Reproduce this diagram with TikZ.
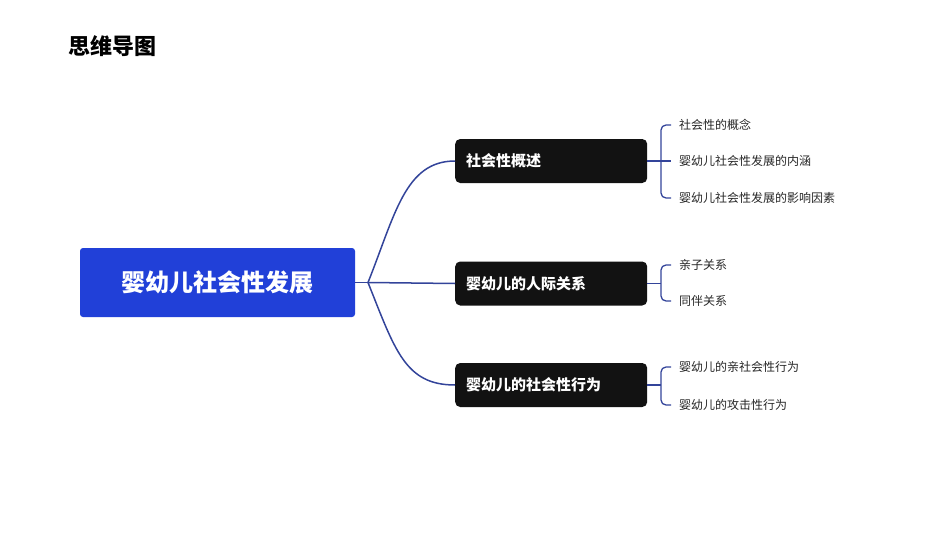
\documentclass[tikz,border=0pt]{standalone}
\usepackage{fontspec}
\setmainfont{Noto Sans CJK SC}
\begin{document}
\begin{tikzpicture}[x=1pt,y=-1pt,
  root/.style={fill=rootblue,rounded corners=3pt,minimum width=275pt,minimum height=69pt,text=white,font=\bfseries\fontsize{24}{28}\selectfont},
  br/.style={fill=black!93,rounded corners=5pt,minimum width=192pt,minimum height=44pt,text=white,font=\bfseries\fontsize{15}{18}\selectfont,anchor=west,text width=170pt,align=left},
  leaf/.style={anchor=west,font=\fontsize{12}{14}\selectfont,text=black!85,inner sep=0pt},
  conn/.style={draw=linkblue,line width=1.5pt},
  lc/.style={draw=linkblue,line width=1.3pt,rounded corners=5pt}]
\definecolor{rootblue}{HTML}{2140D8}
\definecolor{linkblue}{HTML}{33449A}
\useasboundingbox (0,0) rectangle (950,535);
\node[anchor=west,font=\bfseries\fontsize{22}{26}\selectfont,inner sep=0pt] (title) at (68,46) {思维导图};
\node[root] (r) at (217.5,282.5) {婴幼儿社会性发展};
\node[br] (b1) at (455,161) {社会性概述};
\node[br] (b2) at (455,283.5) {婴幼儿的人际关系};
\node[br] (b3) at (455,385) {婴幼儿的社会性行为};
\coordinate (j) at (368,282.5);
\draw[conn] (r.east) -- (j);
\draw[conn] (j) .. controls (395,215) and (405,161) .. (b1.west);
\draw[conn] (j) -- (b2.west);
\draw[conn] (j) .. controls (395,350) and (405,385) .. (b3.west);
\node[leaf] (l1) at (679,125) {社会性的概念};
\node[leaf] (l2) at (679,161) {婴幼儿社会性发展的内涵};
\node[leaf] (l3) at (679,198) {婴幼儿社会性发展的影响因素};
\node[leaf] (l4) at (679,265) {亲子关系};
\node[leaf] (l5) at (679,301) {同伴关系};
\node[leaf] (l6) at (679,367) {婴幼儿的亲社会性行为};
\node[leaf] (l7) at (679,405) {婴幼儿的攻击性行为};
\coordinate (e1) at (671,125); \coordinate (e3) at (671,198);
\coordinate (e4) at (671,265); \coordinate (e5) at (671,301);
\coordinate (e6) at (671,367); \coordinate (e7) at (671,405);
\draw[lc] (e1) -- (661,125) -- (661,198) -- (e3);
\draw[conn,line width=1.3pt] (b1.east) -- (671,161);
\draw[lc] (e4) -- (661,265) -- (661,301) -- (e5);
\draw[conn,line width=1.3pt] (b2.east) -- (661,283.5);
\draw[lc] (e6) -- (661,367) -- (661,405) -- (e7);
\draw[conn,line width=1.3pt] (b3.east) -- (661,385);
\end{tikzpicture}
\end{document}
